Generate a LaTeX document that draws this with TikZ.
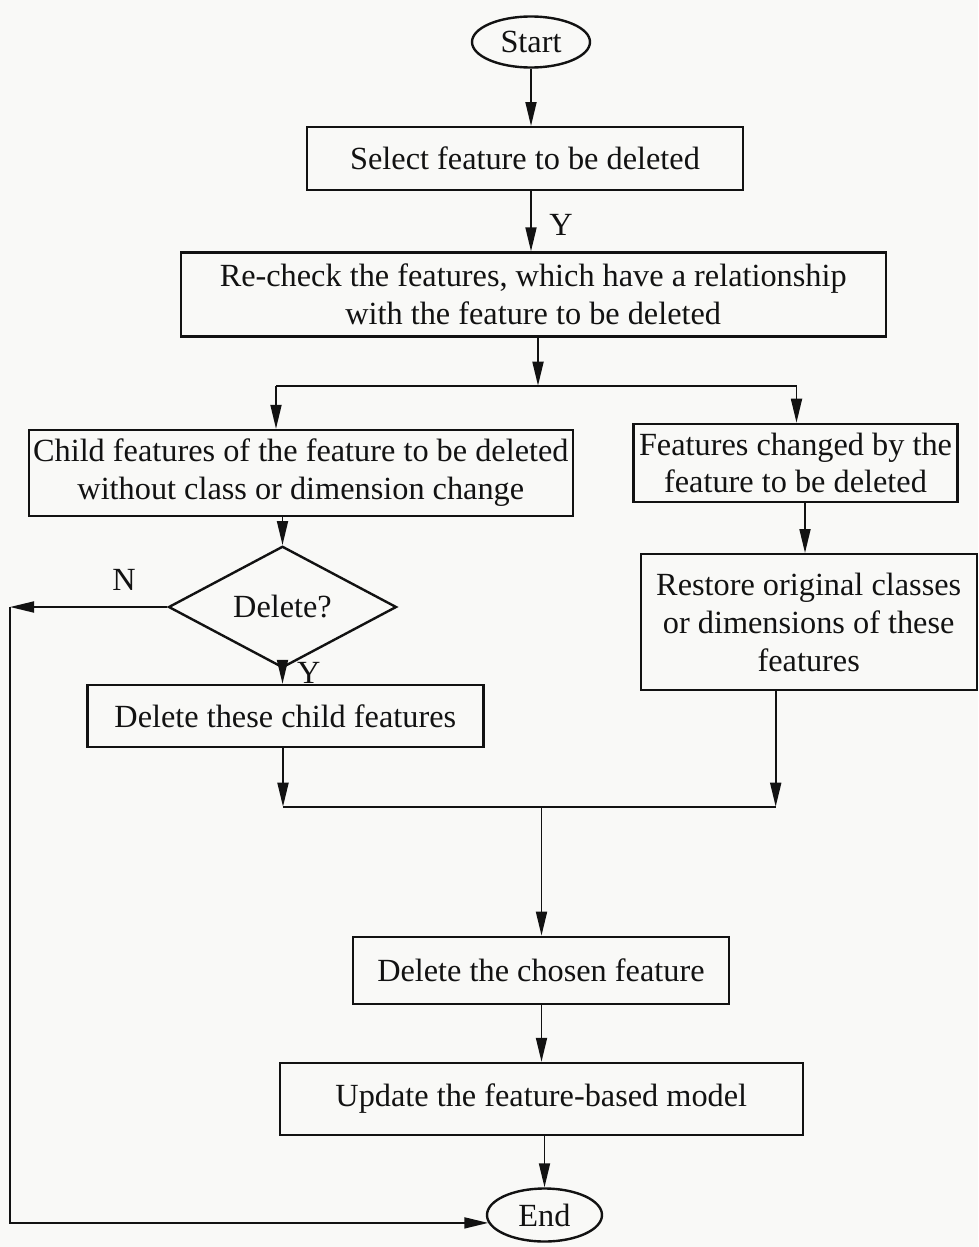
\documentclass[tikz,border=0pt]{standalone}
\usepackage{fontspec}
\setmainfont{Liberation Serif}
\usetikzlibrary{arrows.meta,shapes.geometric}
\definecolor{paper}{RGB}{249,249,247}
\definecolor{ink}{RGB}{18,18,18}
\begin{document}
\begin{tikzpicture}[x=1pt,y=-1pt,
  every node/.style={font=\fontsize{32.3}{37.8}\selectfont, inner sep=0pt, text=ink},
  stepbox/.style={draw=ink, line width=2.4pt, align=center},
  term/.style={draw=ink, ellipse, line width=2.4pt},
  decide/.style={draw=ink, diamond, line width=2.4pt},
  flow/.style={draw=ink, line width=1.8pt},
  arr/.style={flow, -{Triangle[length=24pt,width=11pt]}},
  lbl/.style={anchor=base}]
\fill[paper] (0,0) rectangle (978,1247);
\useasboundingbox (0,0) rectangle (978,1247);

% process steps
\node[term, minimum width=118, minimum height=51] (start) at (531,42) {Start};
\node[stepbox, minimum width=436, minimum height=63] (sel) at (525,158.7) {Select feature to be deleted};
\node[stepbox, minimum width=705, minimum height=84] (rechk) at (533.2,294.5)
  {Re-check the features, which have a relationship\\with the feature to be deleted};
\node[stepbox, minimum width=544, minimum height=86] (child) at (300.8,473)
  {Child features of the feature to be deleted\\without class or dimension change};
\node[stepbox, minimum width=324, minimum height=78] (feat) at (795.5,462.9)
  {Features changed by the\\feature to be deleted};
\node[stepbox, minimum width=336, minimum height=136] (restore) at (808.7,622.2)
  {Restore original classes\\or dimensions of these\\features};
\node[decide, minimum width=228, minimum height=79] (dec) at (282.5,607) {Delete?};
\node[stepbox, minimum width=396, minimum height=62] (dchild) at (285.3,716) {Delete these child features};
\node[stepbox, minimum width=376, minimum height=67] (dchosen) at (540.9,970.3) {Delete the chosen feature};
\node[stepbox, minimum width=523, minimum height=72] (update) at (541.3,1099) {Update the feature-based model};
\node[term, minimum width=115, minimum height=53] (end) at (544.5,1215) {End};

% branch labels
\node[lbl] (y1) at (561,235) {Y};
\node[lbl] (y2) at (308.7,683) {Y};
\node[lbl] (nlab) at (124,590) {N};

% helper points for the split, the merge and the return loop
\coordinate (s1) at (538,385.7);
\coordinate (s1l) at (276,385.7);
\coordinate (s1r) at (796.5,385.7);
\coordinate (fr) at (805,0);
\coordinate (m) at (541.5,806.7);
\coordinate (ml) at (283,806.7);
\coordinate (mr) at (775.7,806.7);
\coordinate (loopx) at (10,0);

% connectors
\draw[arr] (start.south) -- (start.south |- sel.north);
\draw[arr] (sel.south -| start.south) -- (start.south |- rechk.north);
\draw[arr] (rechk.south -| s1) -- (s1);
\draw[flow] (s1l) -- (s1r);
\draw[arr] (s1l) -- (s1l |- child.north);
\draw[arr] (s1r) -- (s1r |- feat.north);
\draw[arr] (feat.south -| fr) -- (fr |- restore.north);
\draw[arr] (child.south -| dec.north) -- (dec.north);
\draw[arr] (dec.south) -- (dec.south |- dchild.north);
\draw[arr] (dec.west) -- (dec.west -| loopx);
\draw[arr] (dec.west -| loopx) -- (end.188 -| loopx) -- (end.188);
\draw[arr] (dchild.south -| ml) -- (ml);
\draw[arr] (restore.south -| mr) -- (mr);
\draw[flow] (ml) -- (mr);
\draw[arr] (m) -- (m |- dchosen.north);
\draw[arr] (dchosen.south -| m) -- (m |- update.north);
\draw[arr] (update.south -| end.north) -- (end.north);
\end{tikzpicture}
\end{document}
